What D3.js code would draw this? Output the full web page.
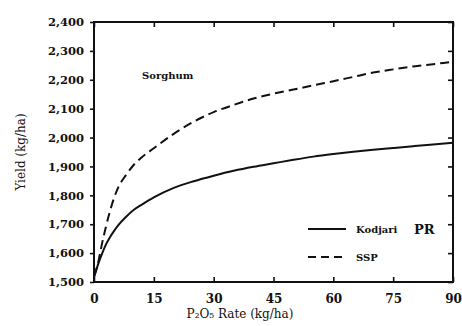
<!DOCTYPE html>
<html>
<head>
<meta charset="utf-8">
<script src="https://cdn.jsdelivr.net/npm/d3@7"></script>
<style>
  html, body { margin: 0; padding: 0; background: #fff; }
  svg { display: block; }
  text { font-family: "DejaVu Serif", "Liberation Serif", serif; fill: #111; }
</style>
</head>
<body>
<svg id="chart" width="462" height="326"></svg>
<script>
// ---- data ----
const rates = [0, 1, 2, 3, 4, 5, 6, 8, 10, 12, 15, 20, 25, 30, 35, 40, 45, 50, 55, 60, 65, 70, 75, 80, 85, 90];
const kodjariPR = [1515, 1560, 1597, 1630, 1655, 1676, 1695, 1725, 1750, 1768, 1793, 1826, 1849, 1868, 1885, 1899, 1911, 1923, 1934, 1943, 1951, 1958, 1964, 1970, 1976, 1982];
const ssp = [1520, 1565, 1632, 1692, 1745, 1790, 1825, 1870, 1906, 1932, 1963, 2013, 2055, 2088, 2113, 2135, 2152, 2166, 2181, 2195, 2210, 2225, 2236, 2246, 2254, 2262];
const xTicks = [0, 15, 30, 45, 60, 75, 90];
const yTicks = [1500, 1600, 1700, 1800, 1900, 2000, 2100, 2200, 2300, 2400];
const seriesNames = ["Kodjari", "SSP"];

const svg = d3.select("#chart");
const L = 94, R = 453, T = 22, B = 282;
const x = d3.scaleLinear().domain([0, 90]).range([L, R]);
const y = d3.scaleLinear().domain([1500, 2400]).range([B, T]);
const fmt = d3.format(",");

// frame
svg.append("rect").attr("x", L).attr("y", T).attr("width", R - L).attr("height", B - T)
  .attr("fill", "none").attr("stroke", "#111").attr("stroke-width", 2);

// left axis (outward ticks)
const gl = svg.append("g").attr("transform", `translate(${L},0)`)
  .call(d3.axisLeft(y).tickValues(yTicks).tickFormat(fmt).tickSize(4).tickPadding(6));
// bottom axis (inward ticks)
const gb = svg.append("g").attr("transform", `translate(0,${B})`)
  .call(d3.axisBottom(x).tickValues(xTicks).tickFormat(d3.format("d")).tickSize(-5).tickPadding(12));
// top axis inward
const gt = svg.append("g").attr("transform", `translate(0,${T})`)
  .call(d3.axisTop(x).tickValues(xTicks).tickFormat("").tickSize(-5));
// right axis inward
const gr = svg.append("g").attr("transform", `translate(${R},0)`)
  .call(d3.axisRight(y).tickValues(yTicks).tickFormat("").tickSize(-5));

[gl, gb, gt, gr].forEach(g => {
  g.select(".domain").remove();
  g.selectAll(".tick line").attr("stroke", "#111").attr("stroke-width", 1.6);
});
gl.selectAll(".tick text").attr("font-size", 11.5).attr("font-weight", "bold")
  .style("font-family", "'DejaVu Serif', serif").attr("fill", "#111");
gb.selectAll(".tick text").attr("font-size", 12).attr("font-weight", "bold")
  .style("font-family", "'DejaVu Serif', serif").attr("fill", "#111");

// axis titles
svg.append("text").attr("x", 240).attr("y", 318).attr("text-anchor", "middle")
  .attr("font-size", 12).text("P₂O₅ Rate (kg/ha)");
svg.append("text").attr("transform", "translate(25,152) rotate(-90)").attr("text-anchor", "middle")
  .attr("font-size", 12).text("Yield (kg/ha)");

// annotation
svg.append("text").attr("x", 142).attr("y", 79).attr("font-size", 10).attr("font-weight", "bold")
  .text("Sorghum");

// lines
const line = d3.line().x((d, i) => x(rates[i])).y(d => y(d)).curve(d3.curveMonotoneX);
svg.append("path").datum(kodjariPR).attr("d", line)
  .attr("fill", "none").attr("stroke", "#111").attr("stroke-width", 2);
svg.append("path").datum(ssp).attr("d", line)
  .attr("fill", "none").attr("stroke", "#111").attr("stroke-width", 2).attr("stroke-dasharray", "9,5");

// legend
const lg = svg.append("g");
lg.append("line").attr("x1", 308).attr("x2", 346).attr("y1", 229).attr("y2", 229)
  .attr("stroke", "#111").attr("stroke-width", 2);
lg.append("text").attr("x", 356).attr("y", 233).attr("font-size", 10).attr("font-weight", "bold").text(seriesNames[0]);
lg.append("text").attr("x", 414).attr("y", 234).attr("font-size", 13).attr("font-weight", "bold").text("PR");
lg.append("line").attr("x1", 308).attr("x2", 346).attr("y1", 257).attr("y2", 257)
  .attr("stroke", "#111").attr("stroke-width", 2).attr("stroke-dasharray", "8,5");
lg.append("text").attr("x", 356).attr("y", 261).attr("font-size", 10).attr("font-weight", "bold").text(seriesNames[1]);
</script>
</body>
</html>
